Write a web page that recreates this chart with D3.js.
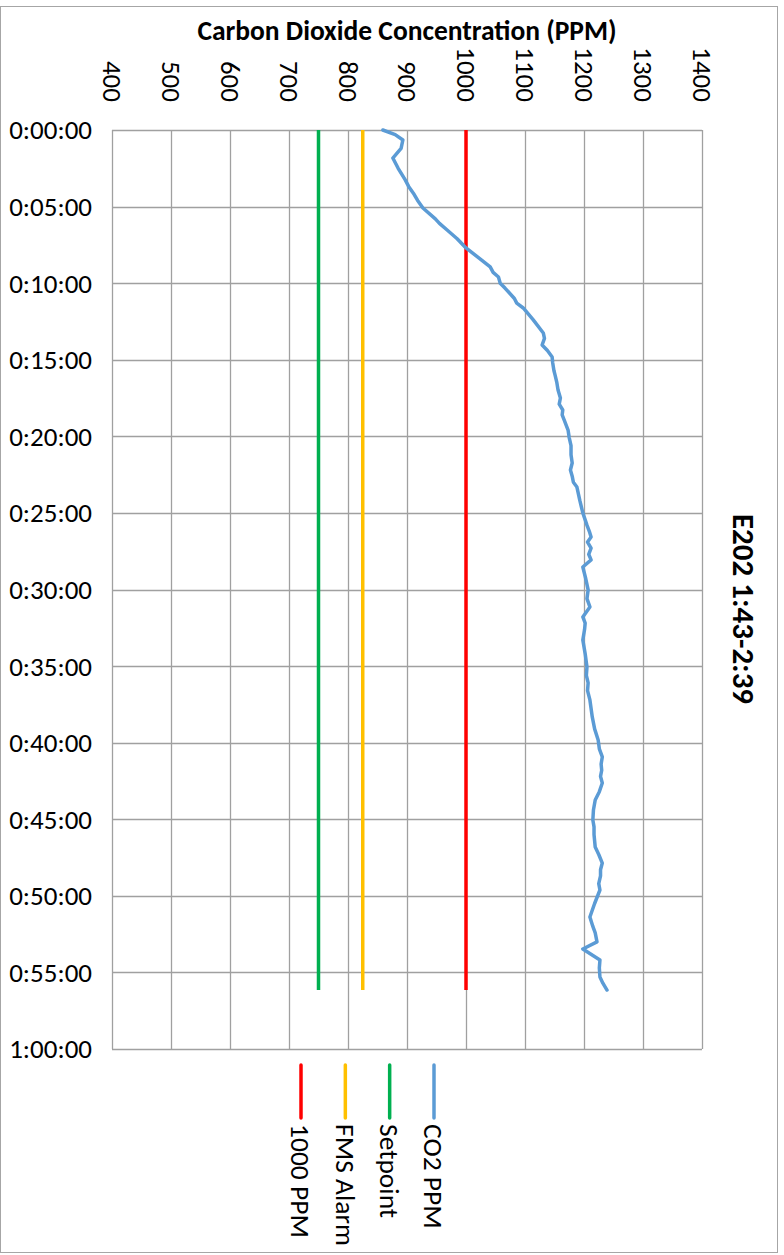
<!DOCTYPE html>
<html>
<head>
<meta charset="utf-8">
<script src="https://cdn.jsdelivr.net/npm/d3@7"></script>
<style>
  body { margin: 0; background: #fff; }
  svg { display: block; }
</style>
</head>
<body>
<div id="container"></div>
<script>
// elapsed minutes and CO2 reading (ppm)
const minutes = [0, 0.3, 0.65, 1.2, 1.83, 2.5, 3.26, 3.7, 4.2, 4.6, 5.09, 5.8, 6.1, 6.53, 7.1, 7.7, 8.3, 8.94, 9.3, 9.6, 10.0, 10.32, 11.0, 11.3, 11.62, 12.4,
  13.25, 13.6, 14.04, 14.4, 14.82, 15.21, 15.7, 16.0, 16.5, 16.97, 17.5, 17.9, 18.28, 18.6, 18.9, 19.59, 20.1, 20.6, 21.2, 21.74, 22.2, 22.6, 23.0, 23.31, 24.2, 25.0, 25.8,
  26.2, 26.57, 26.9, 27.3, 27.7, 28.07, 28.53, 29.3, 30.03, 30.6, 31.14, 31.79, 32.2, 32.6, 33.3, 34.2, 35.06, 35.6, 36.1, 36.6, 37.21, 38.32, 39.1, 39.82, 40.4, 40.93, 41.4, 41.8, 42.2, 42.63,
  43.2, 43.74, 44.4, 45.05, 45.5, 46.0, 46.81, 47.3, 47.86, 48.3, 48.7, 49.2, 49.62, 50.5, 51.38, 52.0, 52.42, 53.01, 53.47, 54.19, 54.7, 55.3, 55.7, 56.15];
const co2 = [859, 880, 893, 890, 876, 885, 897, 903, 912, 918, 927, 948, 955, 968, 985, 1000, 1020, 1041, 1046, 1055, 1058, 1066, 1082, 1086, 1097, 1114,
  1131, 1133, 1129, 1138, 1146, 1147, 1149, 1151, 1154, 1156, 1160, 1158, 1164, 1163, 1166, 1173, 1175, 1178, 1178, 1180, 1177, 1180, 1182, 1188, 1193, 1198, 1205,
  1209, 1212, 1206, 1212, 1208, 1212, 1198, 1203, 1207, 1205, 1210, 1198, 1202, 1201, 1198, 1202, 1205, 1204, 1207, 1206, 1210, 1214, 1218, 1224, 1226, 1231, 1229, 1230, 1228, 1231,
  1226, 1219, 1216, 1215, 1217, 1217, 1219, 1225, 1231, 1228, 1228, 1225, 1227, 1218, 1210, 1215, 1219, 1222, 1198, 1227, 1226, 1227, 1232, 1239];

// constant reference lines
const refNames = ["1000 PPM", "FMS Alarm", "Setpoint"];
const refValues = [1000, 825, 750];
const refColors = ["#ff0000", "#ffc000", "#00b050"];
const co2Color = "#5b9bd5";

const legendNames = ["1000 PPM", "FMS Alarm", "Setpoint", "CO2 PPM"];
const legendColors = ["#ff0000", "#ffc000", "#00b050", "#5b9bd5"];

const ppmTicks = [400, 500, 600, 700, 800, 900, 1000, 1100, 1200, 1300, 1400];
const timeTicks = d3.range(0, 61, 5);

const width = 784;
const height = 1255;
const marginTop = 130;
const marginLeft = 112;
const plotRight = 702;
const plotBottom = 1049;
const font = "Carlito, Calibri, 'Liberation Sans Narrow', 'Open Sans', sans-serif";

const svg = d3.select("#container").append("svg")
    .attr("width", width)
    .attr("height", height)
    .style("font-family", font);

// outer chart border
svg.append("rect")
    .attr("x", 0.5).attr("y", 6.5)
    .attr("width", 777).attr("height", 1246)
    .attr("fill", "#fff")
    .attr("stroke", "#a6a6a6");

const x = d3.scaleLinear().domain([400, 1400]).range([marginLeft, plotRight]);
const y = d3.scaleLinear().domain([0, 60]).range([marginTop, plotBottom]);

const fmtTime = m => {
    const h = Math.floor(m / 60);
    const mm = m % 60;
    return `${h}:${String(mm).padStart(2, "0")}:00`;
};

// grid
svg.append("g")
    .selectAll("line")
    .data(ppmTicks)
    .join("line")
    .attr("x1", d => Math.round(x(d)) + 0.5).attr("x2", d => Math.round(x(d)) + 0.5)
    .attr("y1", marginTop).attr("y2", plotBottom)
    .attr("stroke", "#a0a0a0").attr("stroke-width", 1.3);

svg.append("g")
    .selectAll("line")
    .data(timeTicks)
    .join("line")
    .attr("x1", marginLeft).attr("x2", plotRight)
    .attr("y1", d => Math.round(y(d)) + 0.5).attr("y2", d => Math.round(y(d)) + 0.5)
    .attr("stroke", "#a0a0a0").attr("stroke-width", 1.3);

// ppm tick labels, rotated
svg.append("g")
    .selectAll("text")
    .data(ppmTicks)
    .join("text")
    .attr("transform", d => `translate(${x(d)},102) rotate(90)`)
    .attr("text-anchor", "end")
    .attr("dy", "0.35em")
    .attr("font-size", 27)
    .attr("fill", "#000")
    .text(d => d);

// time tick labels
svg.append("g")
    .selectAll("text")
    .data(timeTicks)
    .join("text")
    .attr("x", 92)
    .attr("y", d => y(d))
    .attr("text-anchor", "end")
    .attr("dy", "0.35em")
    .attr("font-size", 27)
    .attr("fill", "#000")
    .text(fmtTime);

// axis title
svg.append("text")
    .attr("x", 407).attr("y", 30)
    .attr("text-anchor", "middle")
    .attr("dy", "0.35em")
    .attr("font-size", 27.5)
    .attr("font-weight", "bold")
    .text("Carbon Dioxide Concentration (PPM)");

// chart title, rotated on the right
svg.append("text")
    .attr("transform", "translate(744,609) rotate(90)")
    .attr("text-anchor", "middle")
    .attr("dy", "0.35em")
    .attr("font-size", 31)
    .attr("font-weight", "bold")
    .text("E202 1:43-2:39");

// reference lines
const tEnd = d3.max(minutes);
svg.append("g")
    .selectAll("line")
    .data(refValues)
    .join("line")
    .attr("x1", d => x(d)).attr("x2", d => x(d))
    .attr("y1", y(0)).attr("y2", y(tEnd))
    .attr("stroke", (d, i) => refColors[i])
    .attr("stroke-width", 3.5);

// CO2 line
const line = d3.line()
    .x(d => x(d[1]))
    .y(d => y(d[0]))
    .curve(d3.curveLinear);

svg.append("path")
    .datum(d3.zip(minutes, co2))
    .attr("d", line)
    .attr("fill", "none")
    .attr("stroke", co2Color)
    .attr("stroke-width", 3.5)
    .attr("stroke-linejoin", "round")
    .attr("stroke-linecap", "round");

// legend
const legendX = d3.scalePoint().domain(legendNames).range([301, 434]);
const leg = svg.append("g")
    .selectAll("g")
    .data(legendNames)
    .join("g")
    .attr("transform", d => `translate(${legendX(d)},0)`);

leg.append("line")
    .attr("y1", 1065).attr("y2", 1118)
    .attr("stroke", (d, i) => legendColors[i])
    .attr("stroke-width", 3.5)
    .attr("stroke-linecap", "round");

leg.append("text")
    .attr("transform", "translate(0,1124) rotate(90)")
    .attr("dy", "0.35em")
    .attr("font-size", 27.5)
    .text(d => d);
</script>
</body>
</html>
